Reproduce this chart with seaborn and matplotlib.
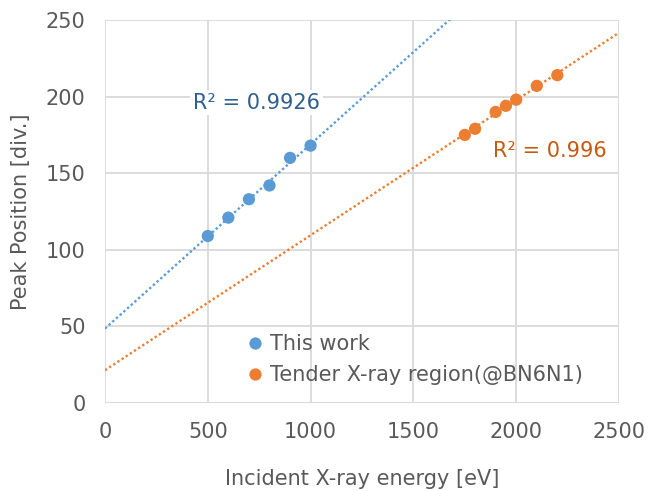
import numpy as np
import pandas as pd
import matplotlib
matplotlib.use("Agg")
import matplotlib.pyplot as plt
import seaborn as sns

# Data
work_energy = [500, 600, 700, 800, 900, 1000]
work_peak = [109, 121, 133, 142, 160, 168]
tender_energy = [1750, 1800, 1900, 1950, 2000, 2100, 2200]
tender_peak = [175, 179, 190, 194, 198, 207, 214]
series_names = ["This work", "Tender X-ray region(@BN6N1)"]
r2_labels = ["R² = 0.9926", "R² = 0.996"]
x_ticks = [0, 500, 1000, 1500, 2000, 2500]
y_ticks = [0, 50, 100, 150, 200, 250]

blue = "#5B9BD5"
orange = "#ED7D31"
grid_c = "#D9D9D9"
text_c = "#595959"
FS = 15

sns.set_theme(style="whitegrid")
plt.rcParams["font.family"] = ["DejaVu Sans"]

df = pd.DataFrame({
    "energy": work_energy + tender_energy,
    "peak": work_peak + tender_peak,
    "series": [series_names[0]] * len(work_energy) + [series_names[1]] * len(tender_energy),
})

fig = plt.figure(figsize=(6.49, 4.91), dpi=100)
ax = fig.add_axes([105 / 649, 1 - 403 / 491, 514 / 649, 383 / 491])

# trendlines
xs = np.array([0, 2500])
for xe, ye, c in [(work_energy, work_peak, blue), (tender_energy, tender_peak, orange)]:
    m, b = np.polyfit(xe, ye, 1)
    ax.plot(xs, m * xs + b, linestyle=(0, (1, 1.1)), color=c, linewidth=1.7, zorder=2)

sns.scatterplot(data=df, x="energy", y="peak", hue="series",
                palette=[blue, orange], s=78, edgecolor="none", ax=ax, zorder=3)

ax.set_xlim(0, 2500)
ax.set_ylim(0, 250)
ax.set_xticks(x_ticks)
ax.set_yticks(y_ticks)
ax.grid(True, color=grid_c, linewidth=1.3)
for s in ax.spines.values():
    s.set_visible(False)
ax.axhline(0, color=grid_c, linewidth=1.8, zorder=1)
ax.tick_params(axis="both", length=0, labelsize=FS, labelcolor=text_c, pad=14)
ax.set_xlabel("Incident X-ray energy [eV]", fontsize=FS, color=text_c, labelpad=19)
ax.set_ylabel("Peak Position [div.]", fontsize=FS, color=text_c, labelpad=11)

ax.text(428, 196, r2_labels[0], fontsize=FS, color="#2F5F8F", va="center", ha="left",
        bbox=dict(facecolor="white", edgecolor="none", pad=2))
ax.text(1887, 164.5, r2_labels[1], fontsize=FS, color="#C55A11", va="center", ha="left")

leg = ax.legend(loc="lower left", bbox_to_anchor=(0.272, 0.046), frameon=False,
                fontsize=FS, handletextpad=0.2, labelspacing=0.54, borderaxespad=0,
                borderpad=0, handlelength=1.0, markerscale=1.0)
for t in leg.get_texts():
    t.set_color(text_c)

fig.savefig("out.png", dpi=100)
